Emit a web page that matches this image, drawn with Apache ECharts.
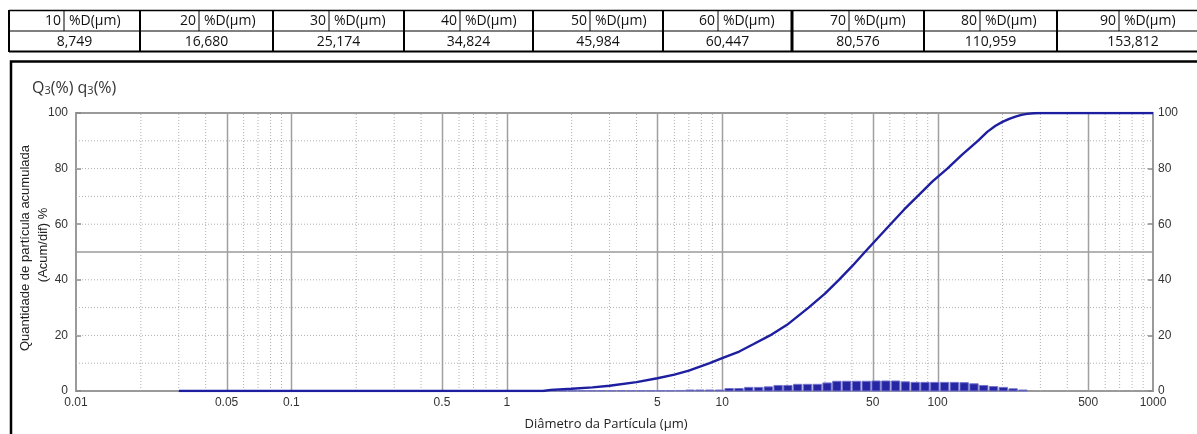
<!DOCTYPE html>
<html><head><meta charset="utf-8">
<script src="https://cdn.jsdelivr.net/npm/echarts@6/dist/echarts.min.js"></script>
<style>html,body{margin:0;padding:0;background:#fff}#c{width:1197px;height:434px}</style>
</head><body><div id="c"></div>
<script>
// ---- data ----
const percentiles = [10, 20, 30, 40, 50, 60, 70, 80, 90];
const dValues = ['8,749', '16,680', '25,174', '34,824', '45,984', '60,447', '80,576', '110,959', '153,812'];

const cumDiameters = [0.03, 1.47, 1.6, 2, 2.5, 3, 4, 5, 6, 7, 8.749, 10, 12, 14, 16.68, 20, 25.174, 30, 34.824, 40, 45.984, 52, 60.447, 70, 80.576, 95, 110.959, 130, 153.812, 170, 185, 200, 215, 230, 245, 260, 280, 300, 1000];
const cumValues    = [0, 0, 0.4, 0.8, 1.3, 1.9, 3.2, 4.6, 5.9, 7.3, 10, 11.8, 14.2, 16.9, 20, 23.8, 30, 35.0, 40, 44.8, 50, 54.5, 60, 65.3, 70, 75.5, 80, 85, 90, 93.2, 95.3, 96.8, 97.9, 98.7, 99.3, 99.7, 99.9, 100, 100];

const binCenters = [1.637, 1.818, 2.019, 2.241, 2.489, 2.763, 3.068, 3.407, 3.783, 4.200, 4.664, 5.178, 5.750, 6.385,
  7.09, 7.87, 8.74, 9.70, 10.77, 11.96, 13.28, 14.75, 16.37, 18.18, 20.18, 22.41, 24.89, 27.63, 30.68, 34.07, 37.83, 42.00,
  46.64, 51.78, 57.50, 63.83, 70.88, 78.70, 87.39, 97.03, 107.7, 119.6, 132.8, 147.5, 163.7, 181.8, 201.8, 224.1, 248.9];
const binValues = [0.15, 0.15, 0.15, 0.15, 0.15, 0.15, 0.15, 0.15, 0.15, 0.15, 0.15, 0.15, 0.15, 0.2,
  0.35, 0.35, 0.35, 0.35, 0.9, 0.9, 1.3, 1.3, 1.5, 2.0, 2.0, 2.4, 2.4, 2.4, 2.9, 3.5, 3.5, 3.5,
  3.5, 3.6, 3.6, 3.6, 3.3, 3.1, 3.1, 3.1, 3.1, 3.1, 3.0, 2.6, 2.0, 1.6, 1.3, 0.8, 0.35];

const xTickLabels = ['0.01', '0.05', '0.1', '0.5', '1', '5', '10', '50', '100', '500', '1000'];
const majorGridX = [0.05, 0.1, 0.5, 1, 5, 10, 50, 100, 500];
const minorGridX = [0.02, 0.03, 0.04, 0.06, 0.07, 0.08, 0.09,
  0.2, 0.3, 0.4, 0.6, 0.7, 0.8, 0.9,
  2, 3, 4, 6, 7, 8, 9,
  20, 30, 40, 60, 70, 80, 90,
  200, 300, 400, 600, 700, 800, 900];
const hGridY = [10, 20, 30, 40, 50, 60, 70, 80, 90];
const hGridSolid = [50];

// ---- table (graphic) ----
const cellEdges = [9, 140, 273, 404, 533, 663, 792, 924, 1057, 1209];
const innerSeps = [64, 199, 329, 460, 590, 718, 849, 980, 1119];
const tFont = '"Open Sans", sans-serif';
const graphic = [];
graphic.push({type: 'line', shape: {x1: 9, y1: 10.5, x2: 1197, y2: 10.5}, style: {stroke: '#000', lineWidth: 1.5}});
graphic.push({type: 'line', shape: {x1: 9, y1: 31, x2: 1197, y2: 31}, style: {stroke: '#000', lineWidth: 1}});
graphic.push({type: 'line', shape: {x1: 9, y1: 51.5, x2: 1197, y2: 51.5}, style: {stroke: '#000', lineWidth: 2}});
cellEdges.forEach((x, i) => {
  graphic.push({type: 'line', shape: {x1: x, y1: 10, x2: x, y2: 52}, style: {stroke: '#000', lineWidth: i === 6 ? 3 : 2}});
});
percentiles.forEach((p, i) => {
  const s = innerSeps[i];
  graphic.push({type: 'line', shape: {x1: s, y1: 10.5, x2: s, y2: 31}, style: {stroke: '#000', lineWidth: 1}});
  graphic.push({type: 'text', x: s - 3, y: 21, style: {text: String(p), font: '14px ' + tFont, fill: '#111', textAlign: 'right', textVerticalAlign: 'middle'}});
  graphic.push({type: 'text', x: s + 5, y: 21, style: {text: '%D(μm)', font: '14px ' + tFont, fill: '#111', textAlign: 'left', textVerticalAlign: 'middle'}});
  const cx = (cellEdges[i] + cellEdges[i + 1]) / 2;
  graphic.push({type: 'text', x: cx, y: 42, style: {text: dValues[i], font: '14px ' + tFont, fill: '#111', textAlign: 'center', textVerticalAlign: 'middle'}});
});
// frame
graphic.push({type: 'rect', shape: {x: 11, y: 61.5, width: 1300, height: 500}, style: {fill: 'none', stroke: '#000', lineWidth: 2.5}});
// titles
graphic.push({type: 'text', x: 32, y: 88, style: {
  text: '{a|Q}{s|3}{a|(%) q}{s|3}{a|(%)}', textVerticalAlign: 'middle',
  rich: {a: {fontFamily: 'Open Sans', fontSize: 16, fill: '#333', verticalAlign: 'bottom'}, s: {fontFamily: 'Open Sans', fontSize: 11, fill: '#333', verticalAlign: 'bottom'}}
}});
graphic.push({type: 'text', x: 25, y: 248, rotation: Math.PI / 2, style: {text: 'Quantidade de partícula acumulada', font: '13px "Liberation Sans", Arial', fill: '#222', textAlign: 'center', textVerticalAlign: 'middle'}});
graphic.push({type: 'text', x: 43, y: 245, rotation: Math.PI / 2, style: {text: '(Acum/dif) %', font: '13px "Liberation Sans", Arial', fill: '#222', textAlign: 'center', textVerticalAlign: 'middle'}});
graphic.push({type: 'text', x: 606, y: 424, style: {text: 'Diâmetro da Partícula (μm)', font: '13px "Open Sans"', fill: '#222', textAlign: 'center', textVerticalAlign: 'middle'}});

const BL = Math.pow(10, -0.0195), BR = Math.pow(10, 0.0195);
const axisFont = {fontFamily: '"Liberation Sans", Arial', fontSize: 12, color: '#333'};

const option = {
  animation: false,
  graphic: graphic,
  grid: {left: 76, right: 44, top: 113, bottom: 43, show: true, borderColor: '#9a9a9a', borderWidth: 2, backgroundColor: 'transparent'},
  xAxis: {type: 'log', logBase: 10, min: 0.01, max: 1000, axisLabel: {show: false}, axisTick: {show: false}, axisLine: {show: false}, splitLine: {show: false}, minorTick: {show: false}},
  yAxis: [
    {type: 'value', min: 0, max: 100, interval: 20, position: 'left', axisLine: {show: false}, axisTick: {show: true, inside: true, length: 5, lineStyle: {color: '#888', width: 1.5}}, splitLine: {show: false}, axisLabel: Object.assign({margin: 8}, axisFont)},
    {type: 'value', min: 0, max: 100, interval: 20, position: 'right', axisLine: {show: false}, axisTick: {show: true, inside: true, length: 5, lineStyle: {color: '#888', width: 1.5}}, splitLine: {show: false}, axisLabel: Object.assign({margin: 5}, axisFont)}
  ],
  series: [
    { // horizontal grid lines
      type: 'custom', silent: true, z: 1, data: hGridY.map(v => [0.01, v]),
      renderItem: (params, api) => {
        const v = api.value(1);
        const a = api.coord([0.01, v]), b = api.coord([1000, v]);
        const solid = hGridSolid.indexOf(v) >= 0;
        return {type: 'line', shape: {x1: a[0], y1: a[1], x2: b[0], y2: b[1]},
          style: solid ? {stroke: '#9a9a9a', lineWidth: 1.5} : {stroke: '#b0b0b0', lineWidth: 1, lineDash: [1, 2]}};
      }
    },
    { // minor vertical grid
      type: 'custom', silent: true, z: 1, data: minorGridX.map(v => [v, 0]),
      renderItem: (params, api) => {
        const v = api.value(0);
        const a = api.coord([v, 0]), b = api.coord([v, 100]);
        return {type: 'line', shape: {x1: a[0], y1: a[1], x2: b[0], y2: b[1]}, style: {stroke: '#b0b0b0', lineWidth: 1, lineDash: [1, 2]}};
      }
    },
    { // major vertical grid
      type: 'custom', silent: true, z: 1, data: majorGridX.map(v => [v, 0]),
      renderItem: (params, api) => {
        const v = api.value(0);
        const a = api.coord([v, 0]), b = api.coord([v, 100]);
        return {type: 'line', shape: {x1: Math.round(a[0]) + 0.5, y1: a[1], x2: Math.round(b[0]) + 0.5, y2: b[1]}, style: {stroke: '#a0a0a0', lineWidth: 1.5}};
      }
    },
    { // x tick labels
      type: 'custom', silent: true, z: 3, clip: false, data: xTickLabels.map(s => [parseFloat(s), 0]),
      renderItem: (params, api) => {
        const p = api.coord([api.value(0), 0]);
        return {type: 'text', x: p[0], y: p[1] + 6, style: {text: xTickLabels[params.dataIndex], font: '12px "Liberation Sans", Arial', fill: '#333', textAlign: 'center', textVerticalAlign: 'top'}};
      }
    },
    { // q3 histogram bars
      type: 'custom', z: 4, data: binCenters.map((c, i) => [c, binValues[i]]),
      renderItem: (params, api) => {
        const c = api.value(0), v = api.value(1);
        const p0 = api.coord([c * BL, v]);
        const p1 = api.coord([c * BR, 0]);
        return {type: 'rect', shape: {x: p0[0], y: p0[1], width: p1[0] - p0[0], height: p1[1] - p0[1]},
          style: {fill: '#2626a4', stroke: '#7474cc', lineWidth: 1}};
      }
    },
    { // Q3 cumulative curve
      type: 'line', z: 5, symbol: 'none', smooth: false,
      data: cumDiameters.map((d, i) => [d, cumValues[i]]),
      lineStyle: {color: '#1e1ea0', width: 2.4}
    }
  ]
};
const chart = echarts.init(document.getElementById('c'));
chart.setOption(option);
</script>
</body></html>
